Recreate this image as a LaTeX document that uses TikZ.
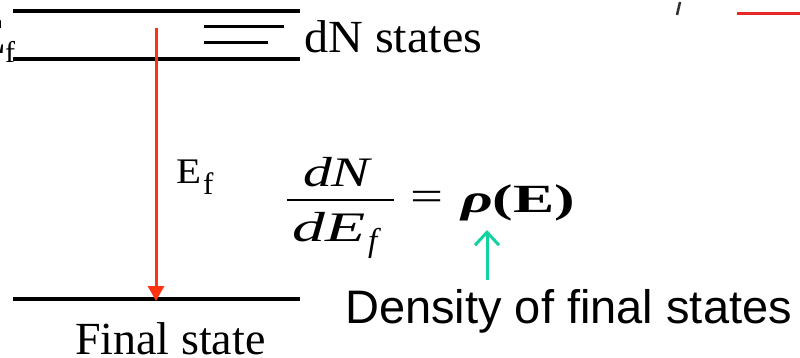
\documentclass[tikz,border=0pt]{standalone}
\usepackage{fontspec}
\usepackage{graphicx}
\setmainfont{Liberation Serif}
\newfontfamily\arialf{Liberation Sans}
\usetikzlibrary{arrows.meta}
\definecolor{redarrow}{RGB}{255,51,17}
\definecolor{cyanarrow}{RGB}{20,210,160}
\definecolor{redline}{RGB}{230,40,40}
\newcommand{\fsz}[1]{\fontsize{#1}{#1}\selectfont}
\newcommand{\hfit}[2]{\resizebox{#1}{\height}{#2}}
\begin{document}
\begin{tikzpicture}[x=1pt,y=-1pt,
  level/.style={line width=4pt},
  sublevel/.style={line width=3pt},
  txt/.style={inner sep=0pt, anchor=base west}]
\useasboundingbox (0,0) rectangle (800,358);
% energy levels
\coordinate (t1) at (13,11);  \coordinate (t2) at (300,11);
\coordinate (m1) at (13,59);  \coordinate (m2) at (300,59);
\coordinate (b1) at (13,299); \coordinate (b2) at (300,299);
\coordinate (s1) at (204,27); \coordinate (s2) at (284,27);
\coordinate (u1) at (204,43); \coordinate (u2) at (268,43);
\draw[level] (t1) -- (t2);
\draw[level] (m1) -- (m2);
\draw[level] (b1) -- (b2);
\draw[sublevel] (s1) -- (s2);
\draw[sublevel] (u1) -- (u2);
% partial E_f at left
\node[txt, anchor=base east, font=\fsz{50}] (ef0) at (6,54) {E};
\node[txt, font=\fsz{30}] (ef0s) at (5,63) {f};
% dN states
\node[txt, font=\fsz{46}] (dn) at (304,53) {\hfit{178pt}{dN states}};
% red arrow
\coordinate (as) at (156,28); \coordinate (ae) at (156,301);
\draw[redarrow, line width=3pt, -{Triangle[width=16pt,length=15pt]}] (as) -- (ae);
% E_f label
\node[txt, font=\fsz{36}] (ef) at (176,184) {\hfit{25pt}{E}};
\node[txt, font=\fsz{31}] (efs) at (203,194) {f};
% formula
\node[txt, font=\fsz{42}\itshape] (num) at (303,186) {\hfit{67pt}{dN}};
\coordinate (f1) at (287,200); \coordinate (f2) at (394,200);
\draw[line width=2pt] (f1) -- (f2);
\node[txt, font=\fsz{42}\itshape] (den) at (292,241) {\hfit{73pt}{dE}};
\node[txt, font=\fsz{33}\itshape] (dens) at (368,251) {f};
\node[txt, font=\fsz{42}] (eq) at (410,211) {\hfit{33pt}{=}};
\node[txt, font=\fsz{40}\bfseries] (rho) at (461,212) {\hfit{114pt}{{\itshape ρ}(E)}};
% cyan arrow
\coordinate (ca) at (487,280); \coordinate (cb) at (487,230);
\draw[cyanarrow, line width=3pt, -{Straight Barb[width=24pt,length=13pt]}] (ca) -- (cb);
% texts
\node[txt, font=\fsz{47}\arialf] (dens2) at (345,323) {Density of final states};
\node[txt, font=\fsz{46}] (fin) at (75,354) {Final state};
% top-right fragments
\coordinate (g1) at (680,2); \coordinate (g2) at (677,15);
\draw[gray!40!black, line width=2.5pt] (g1) -- (g2);
\coordinate (r1) at (737,14); \coordinate (r2) at (800,14);
\draw[redline, line width=3pt] (r1) -- (r2);
\end{tikzpicture}
\end{document}
